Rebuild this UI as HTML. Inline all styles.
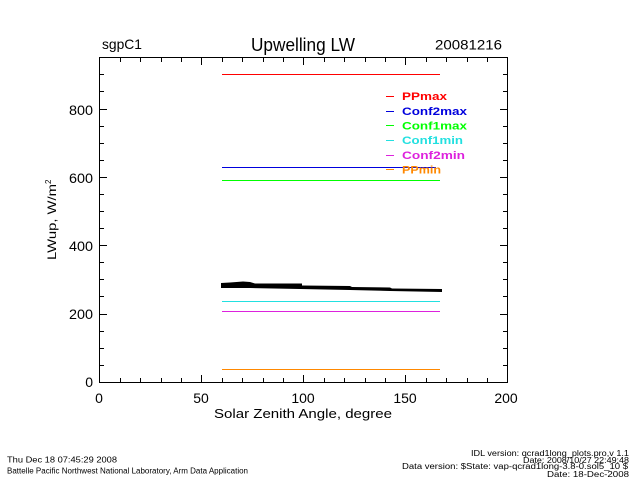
<!DOCTYPE html>
<html><head><meta charset="utf-8"><style>
html,body{margin:0;padding:0;background:#fff;}
svg{display:block;}
text{font-family:"Liberation Sans",sans-serif;fill:#000;}
</style></head><body>
<svg width="640" height="480" viewBox="0 0 640 480" xmlns="http://www.w3.org/2000/svg">
<rect x="0" y="0" width="640" height="480" fill="#fff"/>
<!-- titles -->
<text x="102" y="49" font-size="14" textLength="40" lengthAdjust="spacingAndGlyphs">sgpC1</text>
<text x="251" y="51" font-size="18" textLength="104" lengthAdjust="spacingAndGlyphs">Upwelling  LW</text>
<text x="435" y="49.5" font-size="14" textLength="67" lengthAdjust="spacingAndGlyphs">20081216</text>

<!-- frame -->
<g stroke="#000" stroke-width="1" fill="none" shape-rendering="crispEdges">
<rect x="99.5" y="57.5" width="408" height="325"/>
<!-- x ticks bottom & top -->
<path d="M120.5 382v-4M140.5 382v-4M161.5 382v-4M181.5 382v-4M201.5 382v-7M222.5 382v-4M242.5 382v-4M263.5 382v-4M283.5 382v-4M303.5 382v-7M324.5 382v-4M344.5 382v-4M365.5 382v-4M385.5 382v-4M405.5 382v-7M426.5 382v-4M446.5 382v-4M467.5 382v-4M487.5 382v-4"/>
<path d="M120.5 58v4M140.5 58v4M161.5 58v4M181.5 58v4M201.5 58v7M222.5 58v4M242.5 58v4M263.5 58v4M283.5 58v4M303.5 58v7M324.5 58v4M344.5 58v4M365.5 58v4M385.5 58v4M405.5 58v7M426.5 58v4M446.5 58v4M467.5 58v4M487.5 58v4"/>
<!-- y ticks left -->
<path d="M100 365.5h4M100 348.5h4M100 331.5h4M100 314.5h7M100 296.5h4M100 279.5h4M100 262.5h4M100 245.5h7M100 228.5h4M100 211.5h4M100 194.5h4M100 177.5h7M100 160.5h4M100 143.5h4M100 126.5h4M100 109.5h7M100 91.5h4M100 74.5h4"/>
<path d="M507 365.5h-4M507 348.5h-4M507 331.5h-4M507 314.5h-7M507 296.5h-4M507 279.5h-4M507 262.5h-4M507 245.5h-7M507 228.5h-4M507 211.5h-4M507 194.5h-4M507 177.5h-7M507 160.5h-4M507 143.5h-4M507 126.5h-4M507 109.5h-7M507 91.5h-4M507 74.5h-4"/>
</g>

<!-- y labels -->
<g font-size="14" text-anchor="end">
<text x="93" y="387">0</text>
<text x="93" y="319" textLength="24" lengthAdjust="spacingAndGlyphs">200</text>
<text x="93" y="251" textLength="24" lengthAdjust="spacingAndGlyphs">400</text>
<text x="93" y="183" textLength="24" lengthAdjust="spacingAndGlyphs">600</text>
<text x="93" y="115" textLength="24" lengthAdjust="spacingAndGlyphs">800</text>
</g>
<!-- x labels -->
<g font-size="14" text-anchor="middle">
<text x="99" y="403">0</text>
<text x="201" y="403">50</text>
<text x="303" y="403">100</text>
<text x="405" y="403">150</text>
<text x="506" y="403">200</text>
</g>
<text x="214" y="418" font-size="13" textLength="178" lengthAdjust="spacingAndGlyphs">Solar Zenith Angle, degree</text>
<text transform="translate(56,260) rotate(-90)" font-size="12"><tspan textLength="76" lengthAdjust="spacingAndGlyphs">LWup, W/m</tspan><tspan font-size="8" dy="-5">2</tspan></text>

<!-- series lines -->
<g stroke-width="1" shape-rendering="crispEdges">
<line x1="222" y1="74.5" x2="440" y2="74.5" stroke="#ff0000"/>
<line x1="222" y1="167.5" x2="436" y2="167.5" stroke="#0000dd"/>
<line x1="222" y1="180.5" x2="440" y2="180.5" stroke="#00ff00"/>
<line x1="222" y1="301.5" x2="440" y2="301.5" stroke="#22e0e0"/>
<line x1="222" y1="311.5" x2="440" y2="311.5" stroke="#dd22dd"/>
<line x1="222" y1="369.5" x2="440" y2="369.5" stroke="#ff8800"/>
</g>

<!-- black data -->
<path d="M221 283 L230 282.5 L243 281.5 L250 282 L255 283.5 L302 283.5 L302 285.5 L350 286 L352 287 L390 287.5 L392 288.5 L442 289 L442 292 L390 291 L350 290 L300 289 L250 288 L221 288 Z" fill="#000"/>

<!-- legend -->
<g stroke-width="1" shape-rendering="crispEdges">
<line x1="386" y1="96.5" x2="394" y2="96.5" stroke="#ff0000"/>
<line x1="386" y1="111.5" x2="394" y2="111.5" stroke="#0000dd"/>
<line x1="386" y1="125.5" x2="394" y2="125.5" stroke="#00ff00"/>
<line x1="386" y1="140.5" x2="394" y2="140.5" stroke="#22e0e0"/>
<line x1="386" y1="155.5" x2="394" y2="155.5" stroke="#dd22dd"/>
<line x1="386" y1="169.5" x2="394" y2="169.5" stroke="#ff8800"/>
</g>
<g font-size="11" font-weight="bold">
<text x="402" y="100" fill="#ff0000" style="fill:#ff0000" textLength="45" lengthAdjust="spacingAndGlyphs">PPmax</text>
<text x="402" y="115" style="fill:#0000dd" textLength="65" lengthAdjust="spacingAndGlyphs">Conf2max</text>
<text x="402" y="129.5" style="fill:#00ff00" textLength="65" lengthAdjust="spacingAndGlyphs">Conf1max</text>
<text x="402" y="144" style="fill:#22e0e0" textLength="61" lengthAdjust="spacingAndGlyphs">Conf1min</text>
<text x="402" y="159" style="fill:#dd22dd" textLength="63" lengthAdjust="spacingAndGlyphs">Conf2min</text>
<text x="402" y="173.5" style="fill:#ff8800" textLength="39" lengthAdjust="spacingAndGlyphs">PPmin</text>
</g>

<!-- footer -->
<g font-size="8">
<text x="7" y="462.5" textLength="110" lengthAdjust="spacingAndGlyphs">Thu Dec 18 07:45:29 2008</text>
<text x="7" y="473.5" textLength="241" lengthAdjust="spacingAndGlyphs">Battelle Pacific Northwest National Laboratory, Arm Data Application</text>
<text x="471" y="456" textLength="158" lengthAdjust="spacingAndGlyphs">IDL version: qcrad1long_plots.pro,v 1.1</text>
<text x="523" y="463" textLength="106" lengthAdjust="spacingAndGlyphs">Date: 2008/10/27 22:49:48</text>
<text x="402" y="469" textLength="226" lengthAdjust="spacingAndGlyphs">Data version: $State: vap-qcrad1long-3.8-0.sol5_10 $</text>
<text x="547" y="477" textLength="82" lengthAdjust="spacingAndGlyphs">Date: 18-Dec-2008</text>
</g>
</svg>
</body></html>
